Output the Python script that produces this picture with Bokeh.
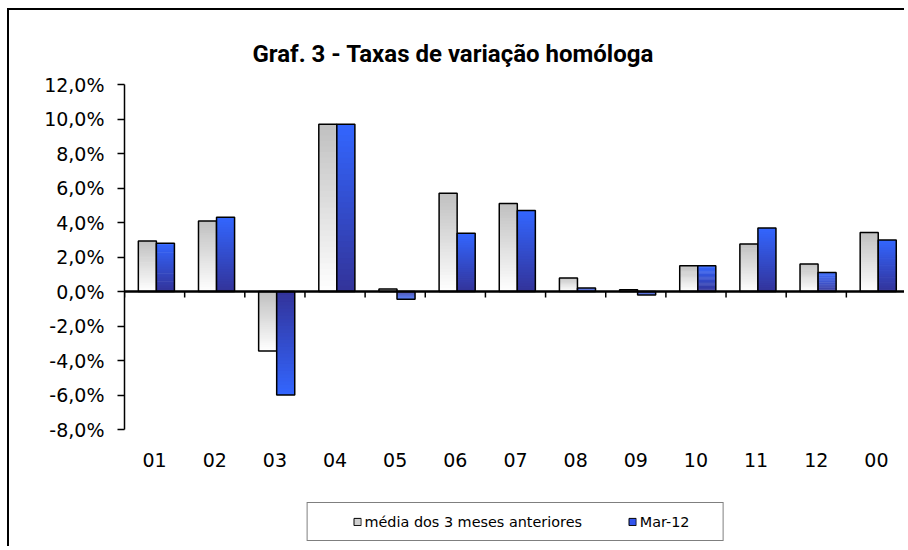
from bokeh.plotting import figure
from bokeh.models import Range1d, FixedTicker, Legend, LegendItem, Span
from bokeh.core.properties import value
from bokeh.embed import file_html
from bokeh.resources import INLINE

# ---------------- data ----------------
categories = ["01", "02", "03", "04", "05", "06", "07", "08", "09", "10", "11", "12", "00"]
media_3m = [2.93, 4.09, -3.45, 9.70, 0.15, 5.69, 5.10, 0.78, 0.10, 1.49, 2.75, 1.59, 3.42]
mar_12 = [2.80, 4.30, -6.00, 9.70, -0.45, 3.37, 4.70, 0.20, -0.20, 1.49, 3.68, 1.10, 2.98]
y_ticks = [-8, -6, -4, -2, 0, 2, 4, 6, 8, 10, 12]
series_names = ["média dos 3 meses anteriores", "Mar-12"]
title_text = "Graf. 3 - Taxas de variação homóloga"

# ---------------- layout / styling ----------------
W, H = 897, 538
MB_LEFT, MB_RIGHT, MB_TOP, MB_BOTTOM = 115, 0, 74, 2
PX_PER_UNIT = 17.25                      # pixels per 1 percentage point
Y_TOP = 12
FRAME_H = H - MB_TOP - MB_BOTTOM
Y_BOTTOM = Y_TOP - FRAME_H / PX_PER_UNIT  # frame extends below -8% for labels and legend
LABEL_Y = -9.74                           # baseline of category labels
TICK_LEN = 6 / PX_PER_UNIT

GRAY_FAR, GRAY_NEAR = (192, 192, 192), (255, 255, 255)
BLUE_FAR, BLUE_NEAR = (51, 102, 255), (51, 51, 153)
BAR_W = 0.3
N_SLICES = 30


def lerp(c0, c1, t):
    return "#%02x%02x%02x" % tuple(int(round(a + (b - a) * t)) for a, b in zip(c0, c1))


p = figure(width=W, height=H, x_range=Range1d(0, len(categories)),
           y_range=Range1d(Y_BOTTOM, Y_TOP), output_backend="svg", toolbar_location=None,
           min_border_left=MB_LEFT, min_border_right=MB_RIGHT, min_border_top=MB_TOP,
           min_border_bottom=MB_BOTTOM)
p.styles = {"border-left": "2px solid black", "border-top": "2px solid black",
            "margin-left": "7px", "margin-top": "8px"}
p.outline_line_color = None
p.grid.visible = False
p.xaxis.visible = False
p.background_fill_color = "white"
p.border_fill_color = "white"

# title
p.title.text = title_text
p.title.text_font = "Roboto"
p.title.text_font_style = "bold"
p.title.text_font_size = "24px"
p.title.text_color = "black"
p.title.align = "left"
p.title.offset = 128
p.title.standoff = 33

# y axis (only between -8% and 12%)
ya = p.yaxis[0]
ya.bounds = (-8, 12)
ya.ticker = FixedTicker(ticks=y_ticks)
ya.major_label_overrides = {v: ("%.1f%%" % v).replace(".", ",") for v in y_ticks}
ya.major_label_text_font = "DejaVu Sans"
ya.major_label_text_font_size = "19px"
ya.major_label_text_color = "black"
ya.axis_line_color = "black"
ya.axis_line_width = 1.5
ya.major_tick_line_color = "black"
ya.major_tick_line_width = 1.5
ya.major_tick_out = 7
ya.major_tick_in = 0
ya.minor_tick_out = 0
ya.minor_tick_in = 0
ya.major_label_standoff = 13

centers = [i + 0.5 for i in range(len(categories))]


# bars with gradient fill drawn as stacked slices
def gradient_bars(values, dx, far, near, screen_vertical):
    xs, bottoms, tops, colors = [], [], [], []
    for i, v in enumerate(values):
        for j in range(N_SLICES):
            t = (j + 0.5) / N_SLICES  # 0 at zero line, 1 at bar end
            if screen_vertical and v < 0:
                col = lerp(far, near, t)
            else:
                col = lerp(near, far, t)
            xs.append(centers[i] + dx)
            bottoms.append(v * j / N_SLICES)
            tops.append(v * min(j + 1.4, N_SLICES) / N_SLICES)
            colors.append(col)
    p.vbar(x=xs, bottom=bottoms, top=tops, width=BAR_W, fill_color=colors,
           line_color=None)
    p.vbar(x=[c + dx for c in centers], top=values, bottom=0, width=BAR_W,
           fill_alpha=0, line_color="black", line_width=1.5)


gradient_bars(media_3m, -0.12, GRAY_FAR, GRAY_NEAR, True)
gradient_bars(mar_12, 0.18, BLUE_FAR, BLUE_NEAR, False)

# zero line with category boundary ticks
bounds = list(range(len(categories) + 1))
p.segment(x0=bounds, x1=bounds, y0=[0] * len(bounds), y1=[-TICK_LEN] * len(bounds),
          line_color="black", line_width=1.5)
p.add_layout(Span(location=0, dimension="width", line_color="black", line_width=2.5))

# category labels
p.text(x=centers, y=[LABEL_Y] * len(categories), text=categories,
       text_font=value("DejaVu Sans"), text_font_size="19px", text_color="black",
       text_align="center", text_baseline="alphabetic")

# legend (zero-height proxy bars sit on the zero line, hidden beneath it)
r_gray = p.vbar(x=[centers[0]], top=[0], bottom=[0], width=BAR_W, fill_color="#d0d0d0",
                line_color="black", line_width=1)
r_blue = p.vbar(x=[centers[0]], top=[0], bottom=[0], width=BAR_W, fill_color="#3355ee",
                line_color="black", line_width=1)
r_none = p.vbar(x=[centers[0]], top=[0], bottom=[0], width=BAR_W, fill_alpha=0, line_alpha=0)
NB = "\u00a0"
legend = Legend(items=[
    LegendItem(label=NB * 5, renderers=[r_none]),
    LegendItem(label=series_names[0] + NB * 10, renderers=[r_gray]),
    LegendItem(label=series_names[1] + NB * 5, renderers=[r_blue]),
], orientation="horizontal", location="bottom_center")
legend.glyph_width = 9
legend.glyph_height = 9
legend.label_standoff = 3
legend.padding = 10
legend.spacing = 0
legend.label_width = 0
legend.label_height = 17
legend.label_text_font = "DejaVu Sans"
legend.label_text_font_size = "14.4px"
legend.label_text_color = "black"
legend.border_line_color = "black"
legend.border_line_width = 1.5
legend.background_fill_color = "white"
legend.background_fill_alpha = 1
legend.margin = 5
p.add_layout(legend)

open("out.html", "w").write(file_html(p, INLINE))
